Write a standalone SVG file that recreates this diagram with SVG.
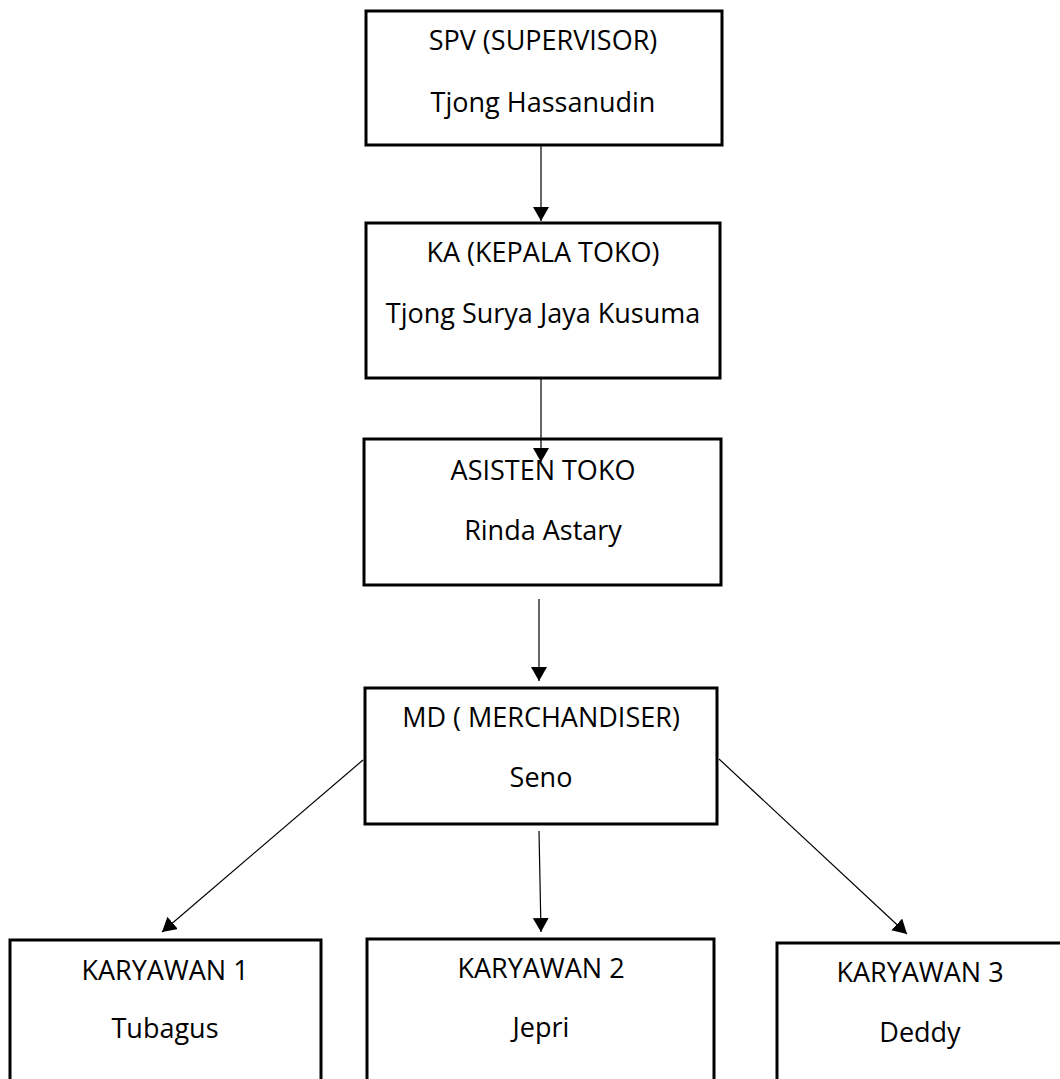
<svg xmlns="http://www.w3.org/2000/svg" width="1060" height="1079" viewBox="0 0 1060 1079">
  <style>
    .box { fill: #ffffff; stroke: #000000; stroke-width: 3; }
    .t { font-family: "Open Sans", "Liberation Sans", sans-serif; font-size: 27px; fill: #000000; text-anchor: middle; }
    .conn { stroke: #000000; stroke-width: 1.2; fill: none; marker-end: url(#arrow); }
  </style>
  <defs>
    <marker id="arrow" viewBox="0 0 14 16" refX="14" refY="8" markerWidth="14" markerHeight="16" markerUnits="userSpaceOnUse" orient="auto">
      <path d="M0,0 L14,8 L0,16 Z" fill="#000000"/>
    </marker>
  </defs>
  <rect width="1060" height="1079" fill="#ffffff"/>

  <g id="spv">
    <rect class="box" x="366" y="11" width="356" height="134"/>
    <text class="t" x="543" y="50">SPV (SUPERVISOR)</text>
    <text class="t" x="543" y="112">Tjong Hassanudin</text>
  </g>
  <g id="ka">
    <rect class="box" x="366" y="223" width="354" height="155"/>
    <text class="t" x="543" y="262">KA (KEPALA TOKO)</text>
    <text class="t" x="543" y="323">Tjong Surya Jaya Kusuma</text>
  </g>
  <g id="asisten">
    <rect class="box" x="364" y="439" width="357" height="146"/>
    <text class="t" x="543" y="480">ASISTEN TOKO</text>
    <text class="t" x="543" y="540">Rinda Astary</text>
  </g>
  <g id="md">
    <rect class="box" x="365" y="688" width="352" height="136"/>
    <text class="t" x="541" y="727">MD ( MERCHANDISER)</text>
    <text class="t" x="541" y="787">Seno</text>
  </g>
  <g id="karyawan1">
    <rect class="box" x="10" y="940" width="311" height="160"/>
    <text class="t" x="165" y="980">KARYAWAN 1</text>
    <text class="t" x="165" y="1038">Tubagus</text>
  </g>
  <g id="karyawan2">
    <rect class="box" x="367" y="939" width="347" height="160"/>
    <text class="t" x="541" y="978">KARYAWAN 2</text>
    <text class="t" x="541" y="1037">Jepri</text>
  </g>
  <g id="karyawan3">
    <rect class="box" x="777" y="943" width="300" height="160"/>
    <text class="t" x="920" y="982">KARYAWAN 3</text>
    <text class="t" x="920" y="1042">Deddy</text>
  </g>

  <g id="connectors">
    <line class="conn" x1="541" y1="146" x2="541" y2="221"/>
    <line class="conn" x1="541" y1="379" x2="541" y2="462"/>
    <line class="conn" x1="539" y1="599" x2="539" y2="681"/>
    <line class="conn" x1="363" y1="760" x2="162" y2="932"/>
    <line class="conn" x1="539" y1="831" x2="541" y2="932"/>
    <line class="conn" x1="719" y1="759" x2="907" y2="934"/>
  </g>
</svg>
